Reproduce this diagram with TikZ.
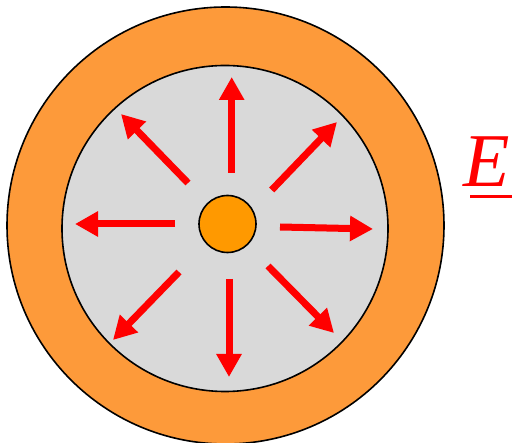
\documentclass[tikz,border=0pt]{standalone}
\usepackage{fontspec}
\setmainfont{Liberation Serif}
\usetikzlibrary{arrows.meta}
\definecolor{shell}{HTML}{FD9A3A}
\definecolor{core}{HTML}{FF9900}
\definecolor{gap}{HTML}{D9D9D9}
\tikzset{
  ring/.style={draw=black, line width=1.6pt},
  field/.style={draw=red, line width=7pt, -{Triangle[width=24pt,length=23pt]}}
}
\begin{document}
\begin{tikzpicture}[x=1pt,y=-1pt]
\useasboundingbox (0,0) rectangle (512,443);
\node[ring, circle, fill=shell, minimum size=437pt, inner sep=0pt] (outer) at (225.5,225.5) {};
\node[ring, circle, fill=gap, minimum size=326pt, inner sep=0pt] (inner) at (225,228.5) {};
\node[ring, circle, fill=core, minimum size=57pt, inner sep=0pt] (charge) at (227.5,224) {};
\draw[field] (231.7,173) -- (231.7,77);
\draw[field] (271.7,190) -- (337,122);
\draw[field] (280,227) -- (373,229);
\draw[field] (268,266) -- (334,333);
\draw[field] (229,279) -- (229,377);
\draw[field] (179,272) -- (113,340);
\draw[field] (175,224) -- (75,224);
\draw[field] (188,183) -- (121,114);
\node[anchor=base west, inner sep=0pt, text=red, font=\fontsize{76}{84}\selectfont\itshape] (E) at (463,187) {E};
\draw[red, line width=3pt] (470,197) -- (512,197);
\end{tikzpicture}
\end{document}
